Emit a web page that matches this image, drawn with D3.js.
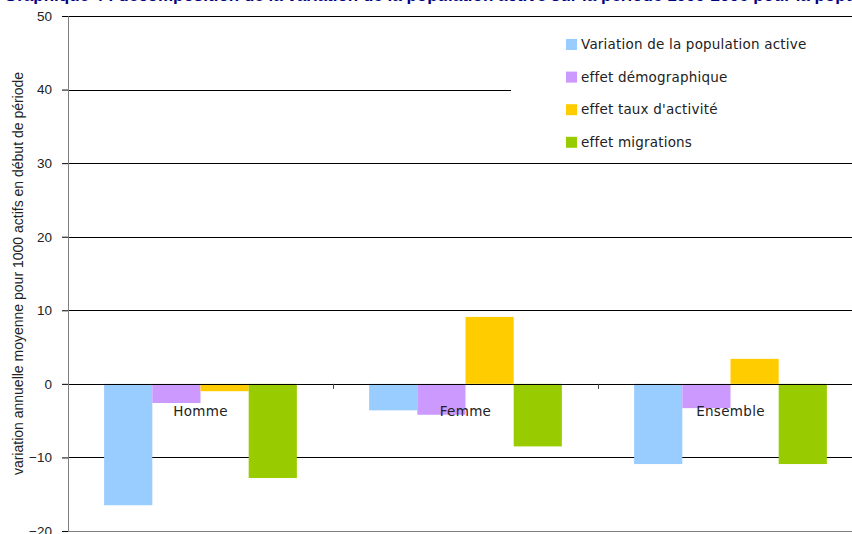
<!DOCTYPE html>
<html>
<head>
<meta charset="utf-8">
<script src="https://cdn.jsdelivr.net/npm/d3@7"></script>
<style>
  body { margin: 0; background: #fff; }
  svg { display: block; }
</style>
</head>
<body>
<svg width="852" height="534"></svg>
<script>
// categories and series
const categories = ["Homme", "Femme", "Ensemble"];
const seriesNames = ["Variation de la population active", "effet démographique",
  "effet taux d'activité", "effet migrations"];
const seriesColors = ["#99CCFF", "#CC99FF", "#FFCC00", "#99CC00"];
const variationPop = [-16.5, -3.6, -10.9];
const effetDemo = [-2.6, -4.2, -3.3];
const effetTaux = [-1.0, 9.1, 3.4];
const effetMigr = [-12.8, -8.5, -10.9];
const yTicks = [-20, -10, 0, 10, 20, 30, 40, 50];

const seriesValues = [variationPop, effetDemo, effetTaux, effetMigr];

const svg = d3.select("svg");
const margin = {left: 68, top: 16, right: -11, bottom: 3};
const width = 852 - margin.left - margin.right;
const height = 534 - margin.top - margin.bottom;

// title, cut off at the top edge like in the original (only its bottom shows)
svg.append("text")
  .attr("x", 4).attr("y", 0.5)
  .style("font-family", "'Liberation Sans', Arial, sans-serif")
  .style("font-size", "17px").style("font-weight", "bold")
  .style("fill", "#000080")
  .text("Graphique 4 : décomposition de la variation de la population active sur la période 1999-2006 pour la population de 15 ans ou plus");

const g = svg.append("g").attr("transform", `translate(${margin.left},${margin.top})`);

const y = d3.scaleLinear().domain([-20, 50]).range([height, 0]);
const x0 = d3.scaleBand().domain(categories).range([0, width]).paddingInner(0).paddingOuter(0);
// gap width 150% -> outer padding of 0.75 bar on each side
const x1 = d3.scaleBand().domain(d3.range(4)).range([0, x0.bandwidth()]).paddingOuter(0.75);

// gridlines
g.append("g").selectAll("line")
  .data(yTicks.filter(d => d !== -20))
  .join("line")
  .attr("x1", 0).attr("x2", width + 20)
  .attr("y1", d => Math.round(y(d)) + 0.5).attr("y2", d => Math.round(y(d)) + 0.5)
  .attr("stroke", "#000").attr("stroke-width", 1);

// bars
const groups = g.append("g").selectAll("g")
  .data(categories)
  .join("g")
  .attr("transform", d => `translate(${x0(d)},0)`);

groups.selectAll("rect")
  .data((c, ci) => seriesValues.map((vals, si) => ({si: si, v: vals[ci]})))
  .join("rect")
  .attr("x", d => x1(d.si))
  .attr("width", x1.bandwidth())
  .attr("y", d => y(Math.max(0, d.v)))
  .attr("height", d => Math.abs(y(d.v) - y(0)))
  .attr("fill", d => seriesColors[d.si]);

// zero line on top
g.append("line")
  .attr("x1", 0).attr("x2", width + 20)
  .attr("y1", Math.round(y(0)) + 0.5).attr("y2", Math.round(y(0)) + 0.5)
  .attr("stroke", "#000");

// category ticks on zero line
g.append("g").selectAll("line")
  .data(categories.slice(1))
  .join("line")
  .attr("x1", d => Math.round(x0(d)) + 0.5).attr("x2", d => Math.round(x0(d)) + 0.5)
  .attr("y1", y(0)).attr("y2", y(0) + 5)
  .attr("stroke", "#444");

// category labels
g.append("g").selectAll("text")
  .data(categories)
  .join("text")
  .attr("x", d => x0(d) + x0.bandwidth() / 2)
  .attr("y", y(0) + 32)
  .attr("text-anchor", "middle")
  .style("font-family", "'DejaVu Sans', Verdana, sans-serif")
  .style("font-size", "13.5px").style("letter-spacing", "0.3px")
  .style("fill", "#222")
  .text(d => d);

// bottom frame line
g.append("line")
  .attr("x1", 0).attr("x2", width + 20)
  .attr("y1", Math.round(y(-20)) + 0.5).attr("y2", Math.round(y(-20)) + 0.5)
  .attr("stroke", "#808080");

// y axis
const yAxis = g.append("g")
  .call(d3.axisLeft(y).tickValues(yTicks).tickSize(6).tickPadding(10));
yAxis.select(".domain").attr("stroke", "#808080");
yAxis.selectAll(".tick line").attr("stroke", "#000");
yAxis.selectAll("text")
  .style("font-family", "'Liberation Sans', Arial, sans-serif")
  .style("font-size", "13.5px").style("fill", "#222");

// y axis title
svg.append("text")
  .attr("transform", `translate(23,${margin.top + y(15)}) rotate(-90)`)
  .attr("text-anchor", "middle")
  .style("font-family", "'Liberation Sans', Arial, sans-serif")
  .style("font-size", "14px").style("fill", "#222")
  .text("variation annuelle moyenne pour 1000 actifs en début de période");

// legend with white background
const legend = svg.append("g").attr("transform", "translate(511,22)");
legend.append("rect").attr("width", 360).attr("height", 136).attr("fill", "#fff");
const items = legend.selectAll("g.item")
  .data(seriesNames)
  .join("g")
  .attr("class", "item")
  .attr("transform", (d, i) => `translate(55,${22 + i * 32.6})`);
items.append("rect")
  .attr("x", 0).attr("y", -5).attr("width", 11).attr("height", 11)
  .attr("fill", (d, i) => seriesColors[i]);
items.append("text")
  .attr("x", 15).attr("y", 5)
  .style("font-family", "'DejaVu Sans', Verdana, sans-serif")
  .style("font-size", "13.5px").style("letter-spacing", "0.2px")
  .style("fill", "#222")
  .text(d => d);
</script>
</body>
</html>
